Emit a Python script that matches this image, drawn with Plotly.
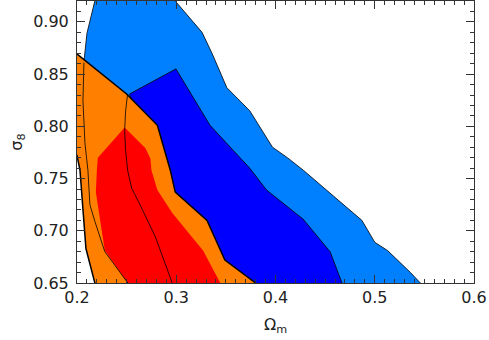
import plotly.graph_objects as go

# contour vertices (Omega_m, sigma_8)
blue_outer_x = [0.2205, 0.290, 0.326, 0.336, 0.351, 0.374, 0.397, 0.412, 0.428,
                0.487, 0.500, 0.513, 0.536, 0.556, 0.300, 0.250, 0.207, 0.210, 0.2205]
blue_outer_y = [0.930, 0.930, 0.890, 0.870, 0.837, 0.815, 0.780, 0.770, 0.758,
                0.710, 0.689, 0.681, 0.660, 0.640, 0.640, 0.830, 0.862, 0.889, 0.930]

blue_inner_x = [0.253, 0.2997, 0.334, 0.374, 0.391, 0.428, 0.455, 0.467, 0.471, 0.320, 0.253]
blue_inner_y = [0.831, 0.855, 0.801, 0.760, 0.739, 0.711, 0.680, 0.650, 0.640, 0.640, 0.831]

orange_x = [0.190, 0.250, 0.281, 0.287, 0.294, 0.299, 0.331, 0.349, 0.380, 0.389,
            0.217, 0.218, 0.209, 0.203, 0.200, 0.190, 0.190]
orange_y = [0.877, 0.831, 0.801, 0.780, 0.758, 0.737, 0.710, 0.672, 0.650, 0.640,
            0.640, 0.650, 0.683, 0.758, 0.772, 0.785, 0.877]

red_x = [0.248, 0.269, 0.274, 0.275, 0.281, 0.296, 0.327, 0.345, 0.350,
         0.259, 0.251, 0.228, 0.219, 0.220, 0.221, 0.248]
red_y = [0.799, 0.779, 0.769, 0.758, 0.739, 0.717, 0.681, 0.650, 0.640,
         0.640, 0.650, 0.681, 0.737, 0.758, 0.770, 0.799]

line_a_x = [0.207, 0.206, 0.208, 0.211, 0.213, 0.218, 0.228, 0.251, 0.259]
line_a_y = [0.861, 0.825, 0.784, 0.758, 0.725, 0.709, 0.680, 0.650, 0.640]

line_b_x = [0.251, 0.249, 0.248, 0.249, 0.251, 0.255, 0.265, 0.279, 0.296, 0.300]
line_b_y = [0.831, 0.815, 0.796, 0.777, 0.758, 0.741, 0.722, 0.694, 0.650, 0.640]

FONT = "DejaVu Sans"
TEXT = {"family": FONT, "size": 16, "color": "#222"}

fig = go.Figure()
fig.add_trace(go.Scatter(x=blue_outer_x, y=blue_outer_y, mode="lines", fill="toself",
                         fillcolor="rgb(0,128,255)", line={"color": "black", "width": 0.8}))
fig.add_trace(go.Scatter(x=blue_inner_x, y=blue_inner_y, mode="lines", fill="toself",
                         fillcolor="rgb(0,0,255)", line={"color": "black", "width": 0.8}))
fig.add_trace(go.Scatter(x=orange_x, y=orange_y, mode="lines", fill="toself",
                         fillcolor="rgb(255,128,0)", line={"color": "black", "width": 1.5}))
fig.add_trace(go.Scatter(x=red_x, y=red_y, mode="lines", fill="toself",
                         fillcolor="rgb(255,0,0)", line={"width": 0}))
fig.add_trace(go.Scatter(x=line_a_x, y=line_a_y, mode="lines",
                         line={"color": "black", "width": 0.8}))
fig.add_trace(go.Scatter(x=line_b_x, y=line_b_y, mode="lines",
                         line={"color": "black", "width": 0.8}))

axis_common = dict(
    showgrid=False, zeroline=False, showline=True, linecolor="#333", linewidth=1,
    mirror="ticks", ticks="inside", ticklen=8, tickcolor="#333", tickwidth=1,
    tickfont=TEXT,
)

fig.update_layout(
    width=489, height=340,
    margin={"l": 77, "r": 15, "t": 1, "b": 57, "pad": 0},
    plot_bgcolor="white", paper_bgcolor="white",
    showlegend=False,
    xaxis=dict(
        axis_common, range=[0.2, 0.6], tick0=0.2, dtick=0.1, tickformat=".1f",
        minor={"dtick": 0.01, "ticks": "inside", "ticklen": 4, "tickcolor": "#333"},
        title={"text": "Ω<sub>m</sub>", "font": TEXT, "standoff": 12},
    ),
    yaxis=dict(
        axis_common, range=[0.65, 0.92], tick0=0.65, dtick=0.05, tickformat=".2f",
        ticklabelstandoff=4,
        minor={"dtick": 0.01, "ticks": "inside", "ticklen": 4, "tickcolor": "#333"},
        title={"text": "σ<sub>8</sub>", "font": TEXT, "standoff": 6},
    ),
)

# drop the browser's default body margin so the figure sits at the page corner
fig.write_html("out.html", config={"staticPlot": True, "displayModeBar": False},
               post_script="document.body.style.margin = '0';")
